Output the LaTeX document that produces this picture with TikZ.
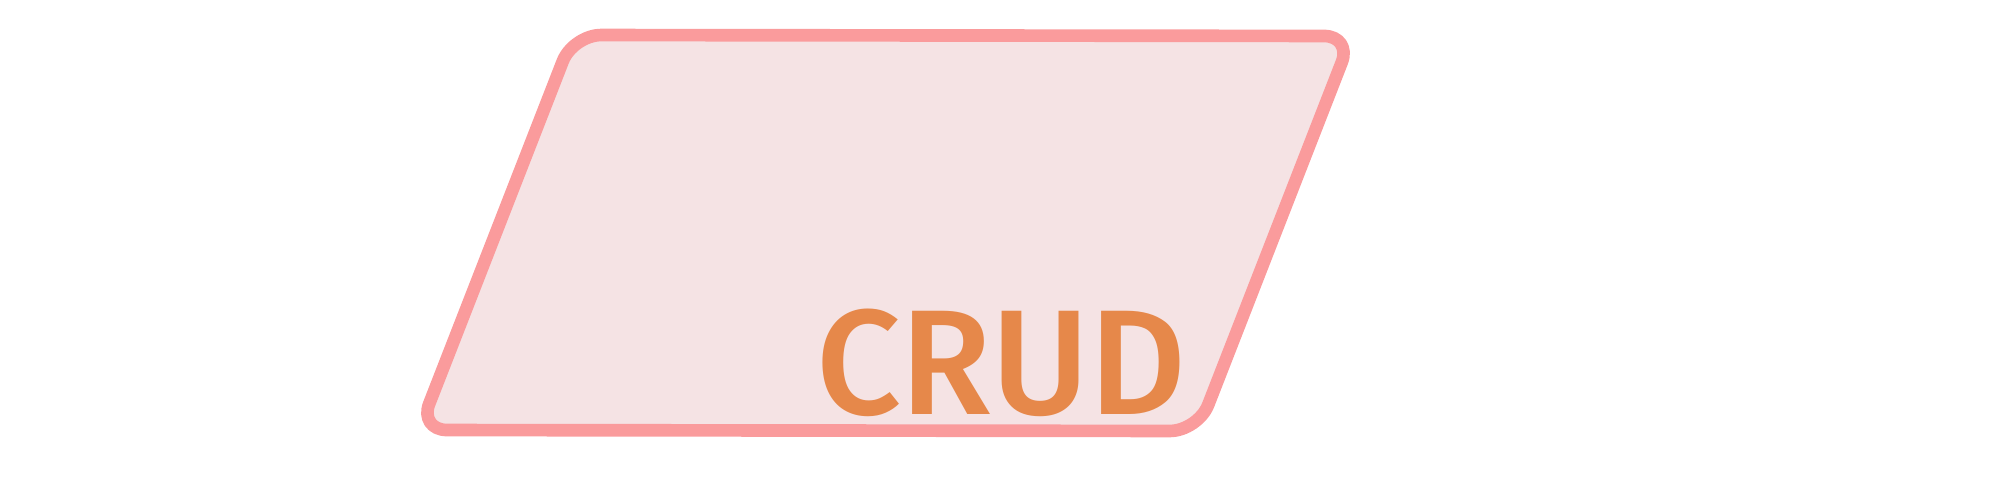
\documentclass[tikz,border=0pt]{standalone}
\usepackage{fontspec}
\setmainfont{Fira Sans}
\newfontfamily\labelfont{Fira Sans Medium}
\usetikzlibrary{positioning}
\definecolor{shapeline}{RGB}{250,155,156}
\definecolor{shapefill}{RGB}{245,227,228}
\definecolor{labeltext}{RGB}{230,136,74}

\begin{document}
\begin{tikzpicture}[
          x=0.01cm, y=-0.01cm,
          shapebox/.style = {draw=shapeline, fill=shapefill, line width=3.6pt, rounded corners=8pt, line join=round},
          label/.style    = {text=labeltext, font=\labelfont\fontsize{42.5}{42.5}\selectfont, inner sep=0pt}
        ]
        \useasboundingbox (0,0) rectangle (2000,494);

        % --- corners of the slanted box
        \coordinate (TL) at (573,35);
        \coordinate (TR) at (1352,36);
        \coordinate (BR) at (1198,431);
        \coordinate (BL) at (419,430);

        % --- box
        \draw[shapebox] (TL) -- (TR) -- (BR) -- (BL) -- cycle;

        % --- text
        \node[label] (crud) at (1001,363) {CRUD};
    \end{tikzpicture}
\end{document}
